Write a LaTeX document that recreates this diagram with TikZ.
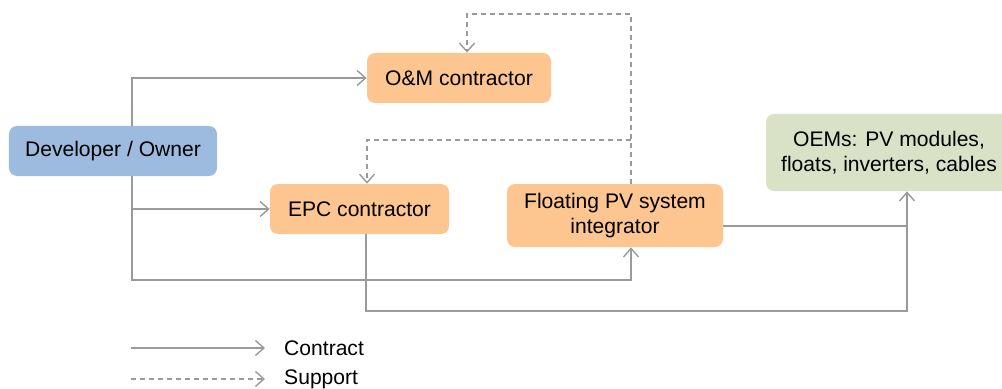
\documentclass[tikz,border=0pt]{standalone}
\usepackage{fontspec}
\setmainfont{Liberation Sans}
\usepackage{xcolor}
\usepackage{tikz}
\usetikzlibrary{positioning,calc,arrows.meta}

\definecolor{ownerblue}{HTML}{9DBBDF}
\definecolor{partyorange}{HTML}{FDC690}
\definecolor{oemgreen}{HTML}{D9E2C7}
\definecolor{linkgray}{HTML}{9A9A9C}

\begin{document}
\begin{tikzpicture}[
    font=\fontsize{12}{14}\selectfont,
    party/.style={rounded corners=1.6mm, inner sep=0pt, align=center, text=black},
    contract/.style={draw=linkgray, line width=0.8pt, -{Straight Barb[length=1.7mm,width=3mm]}},
    link/.style={draw=linkgray, line width=0.8pt},
    support/.style={draw=linkgray, line width=0.8pt, dash pattern=on 1mm off 0.8mm, -{Straight Barb[length=1.7mm,width=3mm]}}
]
    \useasboundingbox (0,0) rectangle (20.04,7.76);

    % Boxes
    \node [party, fill=ownerblue, minimum width=4.16cm, minimum height=1cm] (owner) at (2.26,4.74) {Developer / Owner};
    \node [party, fill=partyorange, minimum width=3.68cm, minimum height=1cm] (om) at (9.18,6.20) {O\&M contractor};
    \node [party, fill=partyorange, minimum width=3.58cm, minimum height=1cm] (epc) at (7.19,3.58) {EPC contractor};
    \node [party, fill=partyorange, minimum width=4.32cm, minimum height=1.26cm] (fpv) at (12.30,3.45) {Floating PV system\\integrator};
    \node [party, fill=oemgreen, minimum width=4.92cm, minimum height=1.54cm] (oem) at (17.78,4.71) {OEMs: PV modules,\\floats, inverters, cables};

    % Bends
    \coordinate (trunk) at (2.64,0);
    \coordinate (bus) at (12.62,2.16);
    \coordinate (supply) at (18.14,1.54);
    \coordinate (top) at (9.34,7.48);
    \coordinate (tee) at (12.62,4.96);

    % Contracts
    \draw [contract] (owner.north -| trunk) |- (om.west);
    \draw [contract] (owner.south -| trunk) |- (epc.west);
    \draw [contract] (owner.south -| trunk) |- (bus) -- (fpv.south -| bus);
    \draw [contract] (epc.south -| 7.32,0) |- (supply) -- (oem.south -| supply);
    \draw [link] ([yshift=-0.21cm]fpv.east) -- ([yshift=-0.21cm]fpv.east -| supply);

    % Support
    \draw [support] (fpv.north -| bus) |- (top) -- (om.north -| top);
    \draw [support] (tee) -| (epc.north -| 7.34,0);

    % Legend
    \node [anchor=west] (lcon) at (5.56,0.80) {Contract};
    \node [anchor=west] (lsup) at (5.56,0.18) {Support};
    \coordinate (lstart) at (2.62,0);
    \draw [contract] (lstart |- lcon.west) -- ([xshift=-0.26cm]lcon.west);
    \draw [support] (lstart |- lsup.west) -- ([xshift=-0.26cm]lsup.west);
\end{tikzpicture}
\end{document}
